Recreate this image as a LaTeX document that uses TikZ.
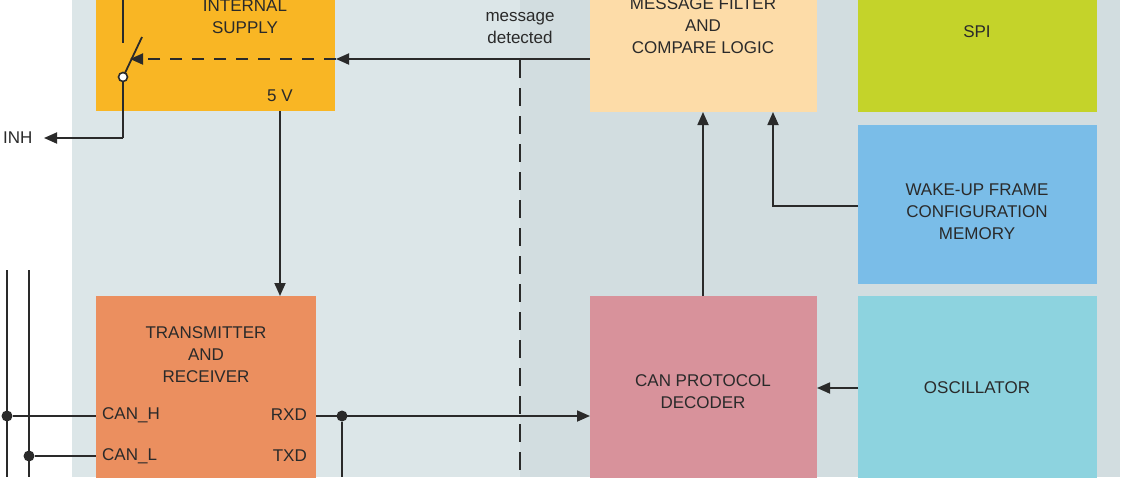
\documentclass[tikz,border=0pt]{standalone}
\usepackage{fontspec}
\setmainfont{Liberation Sans}
\usetikzlibrary{arrows.meta}
\definecolor{bgA}{HTML}{DCE6E8}
\definecolor{bgB}{HTML}{D2DDE0}
\definecolor{supply}{HTML}{F9B624}
\definecolor{filt}{HTML}{FDDCA8}
\definecolor{spi}{HTML}{C4D32A}
\definecolor{wake}{HTML}{7ABDE8}
\definecolor{osc}{HTML}{8DD3DF}
\definecolor{dec}{HTML}{D8929B}
\definecolor{trx}{HTML}{EB8F5F}
\definecolor{ln}{HTML}{2A2A2A}
\begin{document}
\begin{tikzpicture}[x=1pt,y=-1pt,
  txt/.style={font=\fontsize{17}{22}\selectfont,text=ln,align=center,inner sep=0pt},
  wire/.style={ln,line width=1.8pt},
  arr/.style={wire,-{Triangle[length=13pt,width=11pt]}},
  dot/.style={circle,fill=ln,inner sep=0pt,minimum size=11pt}]
\useasboundingbox (0,0) rectangle (1122,477);
\clip (0,0) rectangle (1122,477);
\fill[white] (0,0) rectangle (1122,477);
\fill[bgA] (72,0) rectangle (520,477);
\fill[bgB] (520,0) rectangle (1120,477);
% boxes
\fill[supply] (96,-5) rectangle (335,111);
\fill[filt] (590,-5) rectangle (817,112);
\fill[spi] (858,-5) rectangle (1097,112);
\fill[wake] (858,125) rectangle (1097,284);
\fill[osc] (858,296) rectangle (1097,482);
\fill[dec] (590,296) rectangle (817,482);
\fill[trx] (96,296) rectangle (316,482);
% texts
\node[txt] (tsup) at (245,17) {INTERNAL\\SUPPLY};
\node[txt] (t5v) at (280,96) {5 V};
\node[txt] (twk) at (520,16) {WAKE\\message\\detected};
\node[txt] (tfil) at (703,26) {MESSAGE FILTER\\AND\\COMPARE LOGIC};
\node[txt] (tspi) at (977,32) {SPI};
\node[txt] (twake) at (977,212) {WAKE-UP FRAME\\CONFIGURATION\\MEMORY};
\node[txt] (tosc) at (977,388) {OSCILLATOR};
\node[txt] (tdec) at (703,392) {CAN PROTOCOL\\DECODER};
\node[txt] (ttrx) at (206,355) {TRANSMITTER\\AND\\RECEIVER};
\node[txt,anchor=west] (canh) at (102,415) {CAN\_H};
\node[txt,anchor=west] (canl) at (102,456) {CAN\_L};
\node[txt,anchor=east] (rxd) at (307,415) {RXD};
\node[txt,anchor=east] (txd) at (307,456) {TXD};
\node[txt,anchor=west] (inh) at (3,138) {INH};
% coordinates
\coordinate (sw1) at (123,0); \coordinate (sw2) at (123,43);
\coordinate (swc) at (123,77);
\coordinate (inhp) at (44,138);
% switch
\draw[wire] (sw1) -- (sw2);
\draw[wire] (125,73) -- (142,37);
\draw[wire] (swc) -- (123,138);
\draw[arr] (123,138) -- (inhp);
\node[circle,draw=ln,line width=1.6pt,fill=white,inner sep=0pt,minimum size=9pt] (sc) at (swc) {};
% wake line
\coordinate (fl) at (590,59); \coordinate (sr) at (336,59); \coordinate (sd) at (130,59);
\draw[arr] (fl) -- (sr);
\draw[arr,dash pattern=on 12pt off 10pt] (sr) -- (sd);
\draw[ln,line width=1.8pt,dash pattern=on 18pt off 10pt] (520,60) -- (520,477);
% 5V
\draw[arr] (280,111) -- (280,296);
% up arrows
\draw[arr] (703,296) -- (703,112);
\draw[arr] (858,206) -- (773,206) -- (773,112);
\draw[arr] (858,388) -- (817,388);
% RXD
\draw[arr] (316,416) -- (590,416);
\node[dot] (d1) at (342,416) {};
\draw[wire] (d1) -- (342,477);
% bus
\draw[wire] (7,270) -- (7,477);
\draw[wire] (29,270) -- (29,477);
\node[dot] (d2) at (7,416) {};
\node[dot] (d3) at (29,456) {};
\draw[wire] (d2) -- (96,416);
\draw[wire] (d3) -- (96,456);
\end{tikzpicture}
\end{document}
